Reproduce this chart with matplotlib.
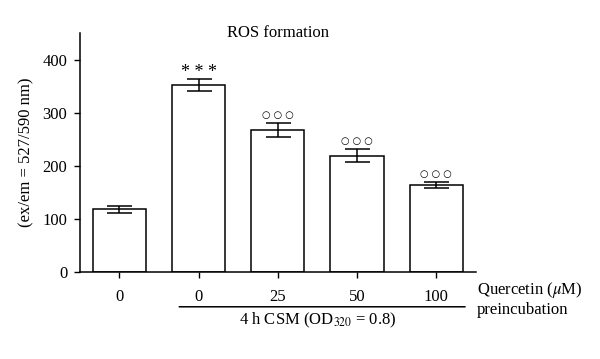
import matplotlib
matplotlib.use("Agg")
import matplotlib.pyplot as plt

plt.rcParams['font.family'] = ['Liberation Serif', 'DejaVu Serif']
plt.rcParams['mathtext.fontset'] = 'stix'

groups = ["0", "0", "25", "50", "100"]
values = [118, 352, 267, 219, 164]
errors = [6, 11, 13, 12, 6]
marks = ["", "* * *", "○ ○ ○", "○ ○ ○", "○ ○ ○"]

fig = plt.figure(figsize=(6, 3.59), dpi=100)
ax = fig.add_axes([0.133, 0.242, 0.66, 0.666])

x = range(len(values))
ax.bar(x, values, width=0.67, color="white", edgecolor="black", linewidth=1.1)
ax.errorbar(x, values, yerr=errors, fmt="none", ecolor="black",
            elinewidth=1.1, capsize=9, capthick=1.1)

for i, (v, e, m) in enumerate(zip(values, errors, marks)):
    if m.startswith("*"):
        ax.text(i, v + e - 3, m, ha="center", va="bottom", fontsize=13)
    elif m:
        ax.text(i, v + e + 6, m, ha="center", va="bottom", fontsize=7,
                family=["DejaVu Sans"])

ax.set_xlim(-0.5, 4.5)
ax.set_ylim(0, 450)
ax.set_yticks([0, 100, 200, 300, 400])
ax.set_xticks(list(x))
ax.set_xticklabels(groups)
ax.tick_params(labelsize=12, length=4, width=1)
ax.tick_params(axis="y", pad=5)
ax.tick_params(axis="x", pad=8)
for s in ["top", "right"]:
    ax.spines[s].set_visible(False)
for s in ["left", "bottom"]:
    ax.spines[s].set_linewidth(1.1)

ax.set_ylabel("(ex/em = 527/590 nm)", fontsize=12, labelpad=6)
ax.set_title("ROS formation", fontsize=12, pad=0, x=0.5, y=0.985)

# CSM bracket under the treated groups
ax.annotate("", xy=(0.72, -0.145), xytext=(4.4, -0.145),
            xycoords=("data", "axes fraction"),
            arrowprops=dict(arrowstyle="-", lw=1.1))
ax.text(2.5, -0.16, r"4 h CSM (OD$_{320}$ = 0.8)", ha="center", va="top",
        fontsize=12, transform=ax.get_xaxis_transform())
fig.text(0.795, 0.168, r"Quercetin ($\mu$M)" + "\npreincubation",
         ha="left", va="center", fontsize=12, linespacing=1.15)

fig.savefig("out.png", dpi=100)
